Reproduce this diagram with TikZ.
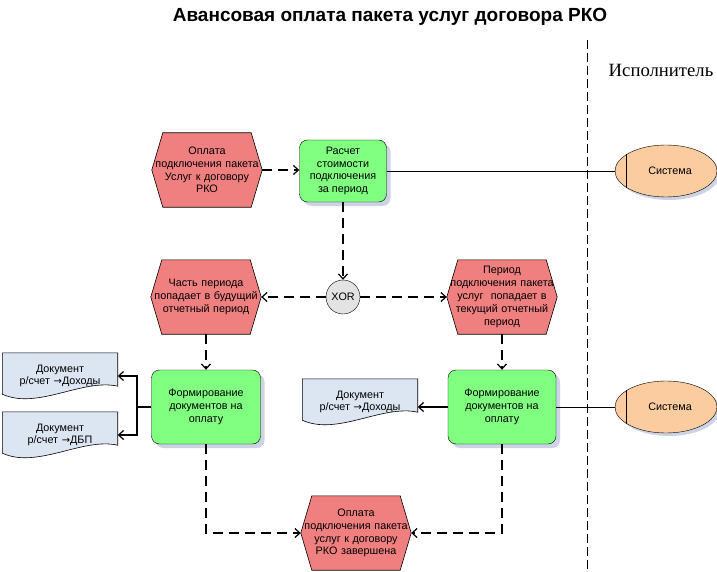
\documentclass[tikz,border=0pt]{standalone}
\usepackage{fontspec}
\setmainfont{Liberation Sans}
\newfontfamily\lanefont{Liberation Serif}
\newfontfamily\arrowfont{DejaVu Sans}
\usetikzlibrary{arrows.meta,shapes.geometric,shadows,backgrounds}

\definecolor{evred}{RGB}{240,128,128}
\definecolor{fngreen}{RGB}{128,255,128}
\definecolor{sysorange}{RGB}{250,204,160}
\definecolor{docblue}{RGB}{220,230,242}
\definecolor{shadowc}{RGB}{190,200,222}

\newcommand{\toarrow}{{\arrowfont\fontsize{10}{12}\selectfont→}}

\tikzset{
  txt/.style={font=\fontsize{10.8}{12.8}\selectfont},
  event/.style={txt, minimum width=110pt, minimum height=74pt, text width=108pt, align=center, inner sep=0pt},
  func/.style={txt, draw, fill=fngreen, rounded corners=8pt, align=center, inner sep=0pt,
    drop shadow={shadow xshift=4pt, shadow yshift=-4pt, fill=shadowc, opacity=0.8}},
  sys/.style={txt, ellipse, draw, fill=sysorange, minimum width=102pt, minimum height=52pt, inner sep=0pt,
    drop shadow={shadow xshift=3pt, shadow yshift=-3pt, fill=shadowc, opacity=0.8}},
  doc/.style={txt, minimum width=115pt, minimum height=46pt, text width=112pt, align=center, inner sep=0pt},
  flow/.style={dash pattern=on 10pt off 6pt, line width=1.2pt, -{Straight Barb[length=5pt,width=9pt]}},
  link/.style={line width=0.6pt},
  outarrow/.style={line width=1.2pt, -{Straight Barb[length=5pt,width=9pt]}},
}

\begin{document}
\begin{tikzpicture}[x=1pt, y=-1pt]
    \path[use as bounding box] (0,0) rectangle (717,572);

    % Title and lane
    \node[font=\bfseries\fontsize{19}{22}\selectfont] (title) at (390,17) {Авансовая оплата пакета услуг договора РКО};
    \node[font=\lanefont\fontsize{18.7}{22}\selectfont] (actor) at (661,70) {Исполнитель};
    \coordinate (laneTop) at (587,40);
    \coordinate (laneBot) at (587,572);
    \draw[dash pattern=on 9pt off 4pt, line width=0.9pt] (laneTop) -- (laneBot);

    % Events
    \node[event] (ev1) at (207,170) {Оплата\\подключения пакета\\Услуг к договору\\РКО};
    \node[event] (ev2) at (206,297) {Часть периода\\попадает в будущий\\отчетный период};
    \node[event] (ev3) at (502,297) {Период\\подключения пакета\\услуг\ \ попадает в\\текущий отчетный\\период};
    \node[event] (ev4) at (356,533) {Оплата\\подключения пакета\\услуг к договору\\РКО завершена};

    % Functions
    \node[func, minimum width=87pt, minimum height=62pt] (fn1) at (343,171) {Расчет\\стоимости\\подключения\\за период};
    \node[func, minimum width=109pt, minimum height=74pt] (fn2) at (206,407) {Формирование\\документов на\\оплату};
    \node[func, minimum width=108pt, minimum height=74pt] (fn3) at (502,407) {Формирование\\документов на\\оплату};

    % XOR
    \node[txt, circle, draw, fill=gray!22, minimum size=34pt, inner sep=0pt] (xor) at (343,297) {XOR};

    % Systems
    \node[sys] (sys1) at (666,171) {\hspace*{8pt}Система};
    \node[sys] (sys2) at (666,407) {\hspace*{8pt}Система};
    \foreach \s in {sys1,sys2}
        \draw[link] (\s.157) -- (\s.203);

    % Documents
    \node[doc] (doc1) at (60,376) {Документ\\р/счет \toarrow Доходы\\[4pt]};
    \node[doc] (doc2) at (60,435) {Документ\\р/счет \toarrow ДБП\\[4pt]};
    \node[doc] (doc3) at (360,402) {Документ\\р/счет \toarrow Доходы\\[4pt]};

    % Shapes behind the texts
    \begin{scope}[on background layer]
        \fill[white] (0,0) rectangle (717,572);
        \foreach \n in {ev1,ev2,ev3,ev4}
            \filldraw[fill=evred, link] (\n.west) -- ([xshift=11pt]\n.north west) -- ([xshift=-11pt]\n.north east)
                -- (\n.east) -- ([xshift=-11pt]\n.south east) -- ([xshift=11pt]\n.south west) -- cycle;
        \foreach \n in {doc1,doc2,doc3}
            \filldraw[fill=docblue, link] (\n.north west) -- (\n.north east) -- ([yshift=13pt]\n.south east)
                .. controls +(-35pt,8pt) and +(35pt,-16pt) .. ([yshift=5pt]\n.south west) -- cycle;
    \end{scope}

    % Control flow
    \draw[flow] (ev1.east) -- (fn1.west |- ev1.east);
    \draw[flow] (fn1.south) -- (xor.north);
    \draw[flow] (xor.west) -- (ev2.east);
    \draw[flow] (xor.east) -- (ev3.west);
    \draw[flow] (ev2.south) -- (fn2.north);
    \draw[flow] (ev3.south) -- (fn3.north);
    \draw[flow] (fn2.south) |- (ev4.west);
    \draw[flow] (fn3.south) |- (ev4.east);

    % Outputs and performers
    \coordinate (fork) at (137,407);
    \draw[line width=1.2pt] (fn2.west) -- (fork);
    \draw[outarrow] (fork) |- (doc1.east);
    \draw[outarrow] (fork) |- (doc2.east);
    \draw[outarrow] (fn3.west) -- (doc3.east |- fn3.west);
    \draw[link] (fn1.east) -- (sys1.west);
    \draw[link] (fn3.east) -- (sys2.west);
\end{tikzpicture}
\end{document}
